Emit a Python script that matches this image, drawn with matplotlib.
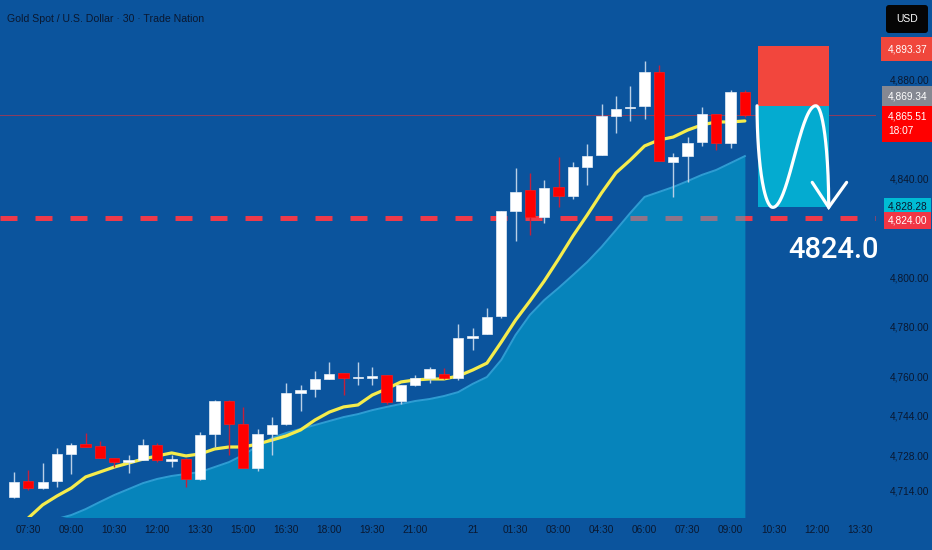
import matplotlib
matplotlib.use("Agg")
import matplotlib.pyplot as plt
import numpy as np
from matplotlib.patches import Rectangle, FancyBboxPatch
from matplotlib.transforms import blended_transform_factory, offset_copy

# ---------------- data ----------------
title = "Gold Spot / U.S. Dollar · 30 · Trade Nation"

opens = [4711.2, 4717.7, 4714.8, 4717.7, 4728.6, 4732.6, 4731.8, 4726.9, 4725.3, 4726.1,
         4732.2, 4725.7, 4726.5, 4718.5, 4736.7, 4750.0, 4740.7, 4722.9, 4736.7, 4740.7,
         4753.2, 4754.9, 4758.9, 4761.3, 4759.3, 4759.3, 4760.5, 4750.0, 4756.5, 4759.3,
         4760.9, 4759.3, 4775.5, 4777.1, 4784.4, 4826.8, 4835.3, 4824.4, 4836.5, 4832.9,
         4844.6, 4849.4, 4865.2, 4868.4, 4869.2, 4883.0, 4846.6, 4849.0, 4854.7, 4866.0,
         4854.3, 4874.9]
highs = [4721.3, 4722.1, 4724.9, 4731.0, 4733.0, 4737.1, 4733.8, 4726.9, 4728.2, 4734.6,
         4733.0, 4728.2, 4726.9, 4737.5, 4750.4, 4750.4, 4747.6, 4738.7, 4743.5, 4757.3,
         4756.5, 4762.1, 4765.7, 4761.3, 4765.7, 4763.7, 4760.5, 4756.5, 4760.5, 4763.7,
         4763.3, 4781.1, 4779.5, 4787.6, 4826.8, 4844.2, 4842.2, 4839.3, 4848.6, 4846.6,
         4853.9, 4870.0, 4873.3, 4877.3, 4887.4, 4885.8, 4850.2, 4856.7, 4868.8, 4866.0,
         4875.7, 4875.7]
lows = [4710.8, 4714.0, 4714.4, 4715.2, 4720.5, 4731.4, 4726.9, 4723.3, 4720.9, 4726.1,
        4725.5, 4723.3, 4715.2, 4718.1, 4731.4, 4728.2, 4722.9, 4721.7, 4728.2, 4740.3,
        4746.0, 4751.6, 4758.9, 4752.4, 4756.5, 4756.5, 4748.8, 4748.8, 4756.1, 4757.3,
        4758.9, 4758.5, 4770.6, 4777.1, 4783.5, 4814.7, 4817.1, 4822.0, 4828.4, 4831.7,
        4837.3, 4849.4, 4858.3, 4863.2, 4864.0, 4847.0, 4832.5, 4838.5, 4853.1, 4851.5,
        4852.3, 4864.8]
closes = [4717.3, 4714.8, 4717.3, 4728.6, 4732.2, 4731.4, 4726.9, 4725.3, 4726.1, 4732.2,
          4726.1, 4726.5, 4718.5, 4736.3, 4750.0, 4740.7, 4722.9, 4736.7, 4740.3, 4753.2,
          4754.4, 4758.9, 4760.9, 4759.3, 4759.7, 4760.1, 4749.6, 4756.5, 4759.3, 4762.9,
          4759.3, 4775.5, 4776.3, 4784.0, 4826.8, 4834.5, 4824.4, 4836.1, 4832.9, 4844.6,
          4849.0, 4865.2, 4868.0, 4868.8, 4883.0, 4847.0, 4848.6, 4854.3, 4866.0, 4854.3,
          4874.9, 4865.51]
ema = [4697.9, 4702.7, 4708.0, 4711.6, 4714.8, 4719.3, 4721.3, 4723.3, 4724.9, 4726.5,
       4727.8, 4729.0, 4727.8, 4728.6, 4730.6, 4731.4, 4731.4, 4732.6, 4734.2, 4735.9,
       4738.3, 4742.3, 4745.5, 4747.6, 4748.4, 4752.4, 4754.9, 4757.7, 4758.5, 4758.9,
       4758.9, 4760.1, 4762.5, 4765.3, 4773.8, 4782.7, 4790.4, 4798.5, 4807.4, 4816.7,
       4825.2, 4834.1, 4842.2, 4847.4, 4853.1, 4855.5, 4856.7, 4859.5, 4861.6, 4862.8,
       4862.8, 4863.2]
band = [4697.9, 4699.1, 4700.7, 4702.3, 4703.9, 4706.3, 4709.2, 4712.0, 4714.4, 4716.8,
        4718.5, 4719.7, 4720.5, 4721.3, 4723.3, 4725.3, 4728.2, 4731.8, 4735.0, 4737.1,
        4738.7, 4740.3, 4741.9, 4743.5, 4744.7, 4746.3, 4747.6, 4748.8, 4750.0, 4750.8,
        4752.0, 4753.6, 4756.9, 4759.7, 4766.6, 4776.7, 4784.8, 4790.8, 4795.7, 4800.9,
        4806.2, 4812.3, 4819.1, 4826.0, 4832.5, 4834.5, 4836.5, 4838.9, 4841.4, 4843.4,
        4846.2, 4849.0]

xtick_bars = [1, 4, 7, 10, 13, 16, 19, 22, 25, 28, 32, 35, 38, 41, 44, 47, 50, 53, 56, 59]
xtick_labels = ["07:30", "09:00", "10:30", "12:00", "13:30", "15:00", "16:30", "18:00",
                "19:30", "21:00", "21", "01:30", "03:00", "04:30", "06:00", "07:30",
                "09:00", "10:30", "12:00", "13:30"]
ytick_vals = [4714, 4728, 4744, 4760, 4780, 4800, 4840, 4880]

stop_price = 4893.37
entry_price = 4869.34
last_price = 4865.51
countdown = "18:07"
target_price = 4828.28
level = 4824.0
currency = "USD"

# ---------------- style ----------------
BG = "#0b549d"
TXT = "#0a1830"
plt.rcParams["font.family"] = ["Liberation Sans", "DejaVu Sans"]

W, H = 932, 550
fig = plt.figure(figsize=(W / 100, H / 100), dpi=100, facecolor=BG)
ax = fig.add_axes([0, 33 / H, 876 / W, 517 / H], facecolor=BG)
ax.set_xlim(-0.977, 60.15)
ax.set_ylim(4703.1, 4912.1)
for s in ax.spines.values():
    s.set_visible(False)

x = np.arange(len(closes))
o = np.array(opens); c = np.array(closes); h = np.array(highs); l = np.array(lows)

# dashed level line (below the band)
ax.axhline(level, color="#ee3a4a", lw=3.6, dashes=(3.4, 3.6), dash_capstyle="butt", zorder=1)

# band (filled area)
ax.fill_between(x, band, 4700, color="#00cde9", alpha=0.4, lw=0, zorder=2)
ax.plot(x, band, color="#38aee0", lw=1.4, alpha=0.8, zorder=2.1)

# current price line
ax.axhline(last_price, color="#ff2a2a", lw=0.7, alpha=0.55, zorder=2.2)

# ema line
ax.plot(x, ema, color="#f5ec4c", lw=2.3, zorder=3, solid_capstyle="round")

# candles
up = c >= o
body_h = np.maximum(np.abs(c - o), 0.35)
ax.vlines(x[up], l[up], h[up], color="#b9cfe6", lw=1.0, zorder=4)
ax.vlines(x[~up], l[~up], h[~up], color="#c4203c", lw=1.0, zorder=4)
ax.bar(x[up], body_h[up], bottom=np.minimum(o, c)[up], width=0.72,
       color="white", edgecolor="#e6eef7", lw=0.5, zorder=5)
ax.bar(x[~up], body_h[~up], bottom=np.minimum(o, c)[~up], width=0.72,
       color="#ff0000", edgecolor="#ff1a1a", lw=0.5, zorder=5)

# trade boxes
bx0, bw = 51.9, 5.0
ax.add_patch(Rectangle((bx0, entry_price), bw, stop_price - entry_price,
                       facecolor="#f2463d", edgecolor="none", zorder=6))
ax.add_patch(Rectangle((bx0, target_price), bw, entry_price - target_price,
                       facecolor="#04abd0", edgecolor="none", zorder=6))

# curvy white arrow
xs, xb, xp, xe = 51.85, 52.95, 55.95, 56.85
u = np.linspace(0, 1, 60)
d = entry_price - target_price
cx = np.concatenate([xs + (xb - xs) * (1 - np.cos(np.pi / 2 * u)),
                     xb + (xp - xb) * u,
                     xp + (xe - xp) * np.sin(np.pi / 2 * u)])
cy = np.concatenate([entry_price - d * np.sin(np.pi / 2 * u),
                     target_price + d * (1 - np.cos(np.pi * u)) / 2,
                     entry_price - d * (1 - np.cos(np.pi / 2 * u))])
ax.plot(cx, cy, color="white", lw=2.3, zorder=7, solid_capstyle="round")
ax.plot([xe - 1.15, xe, xe + 1.25], [target_price + 10.1, target_price, target_price + 10.1],
        color="white", lw=2.3, zorder=7, solid_capstyle="round", solid_joinstyle="miter")

ax.text(57.15, level - 13.0, f"{level:.1f}", fontsize=21, color="white",
        family=["Roboto", "Liberation Sans"], fontweight="medium",
        ha="center", va="center", zorder=8)

# axes ticks
ax.yaxis.tick_right()
ax.set_yticks(ytick_vals)
ax.set_yticklabels([f"{v:,.2f}" for v in ytick_vals])
ax.set_xticks(xtick_bars)
ax.set_xticklabels(xtick_labels)
ax.tick_params(axis="y", length=0, pad=10, labelsize=7.3, labelcolor=TXT)
ax.tick_params(axis="x", length=0, pad=6, labelsize=7.3, labelcolor=TXT)

# price tags on the right scale
tr = blended_transform_factory(ax.transAxes, ax.transData)
tx = 1.0 + 12 / 876


def tag(y, text, fc, tc, dy=0, pad=0.5, va="center"):
    t = offset_copy(tr, fig=fig, x=0, y=dy, units="dots")
    ax.text(tx, y, text, transform=t, fontsize=7.3, color=tc, ha="left", va=va,
            bbox=dict(boxstyle=f"square,pad={pad}", fc=fc, ec="none"),
            clip_on=False, zorder=10, linespacing=1.6)


tag(stop_price, f"{stop_price:,.2f}", "#f0473c", "white", dy=-3, pad=0.7)
tag(entry_price, f"{entry_price:,.2f}", "#858892", "white", dy=9, pad=0.55)
tag(last_price, f"{last_price:,.2f}\n{countdown}", "#ff0000", "white", dy=4, va="top", pad=0.55)
tag(target_price, f"{target_price:,.2f}", "#00bcd4", TXT, dy=1, pad=0.35)
tag(level, f"{level:,.2f}", "#f23645", "white", dy=-3, pad=0.35)

# currency box
fig.add_artist(FancyBboxPatch((886, H - 33), 42, 28, boxstyle="round,pad=0,rounding_size=3",
                              transform=None, facecolor="#050505", edgecolor="none"))
fig.text(907 / W, 1 - 19 / H, currency, color="white", fontsize=7.5, ha="center", va="center")

# title
fig.text(7 / W, 1 - 19 / H, title, color=TXT, fontsize=7.6, ha="left", va="center")

fig.savefig("out.png", dpi=100, facecolor=BG)
